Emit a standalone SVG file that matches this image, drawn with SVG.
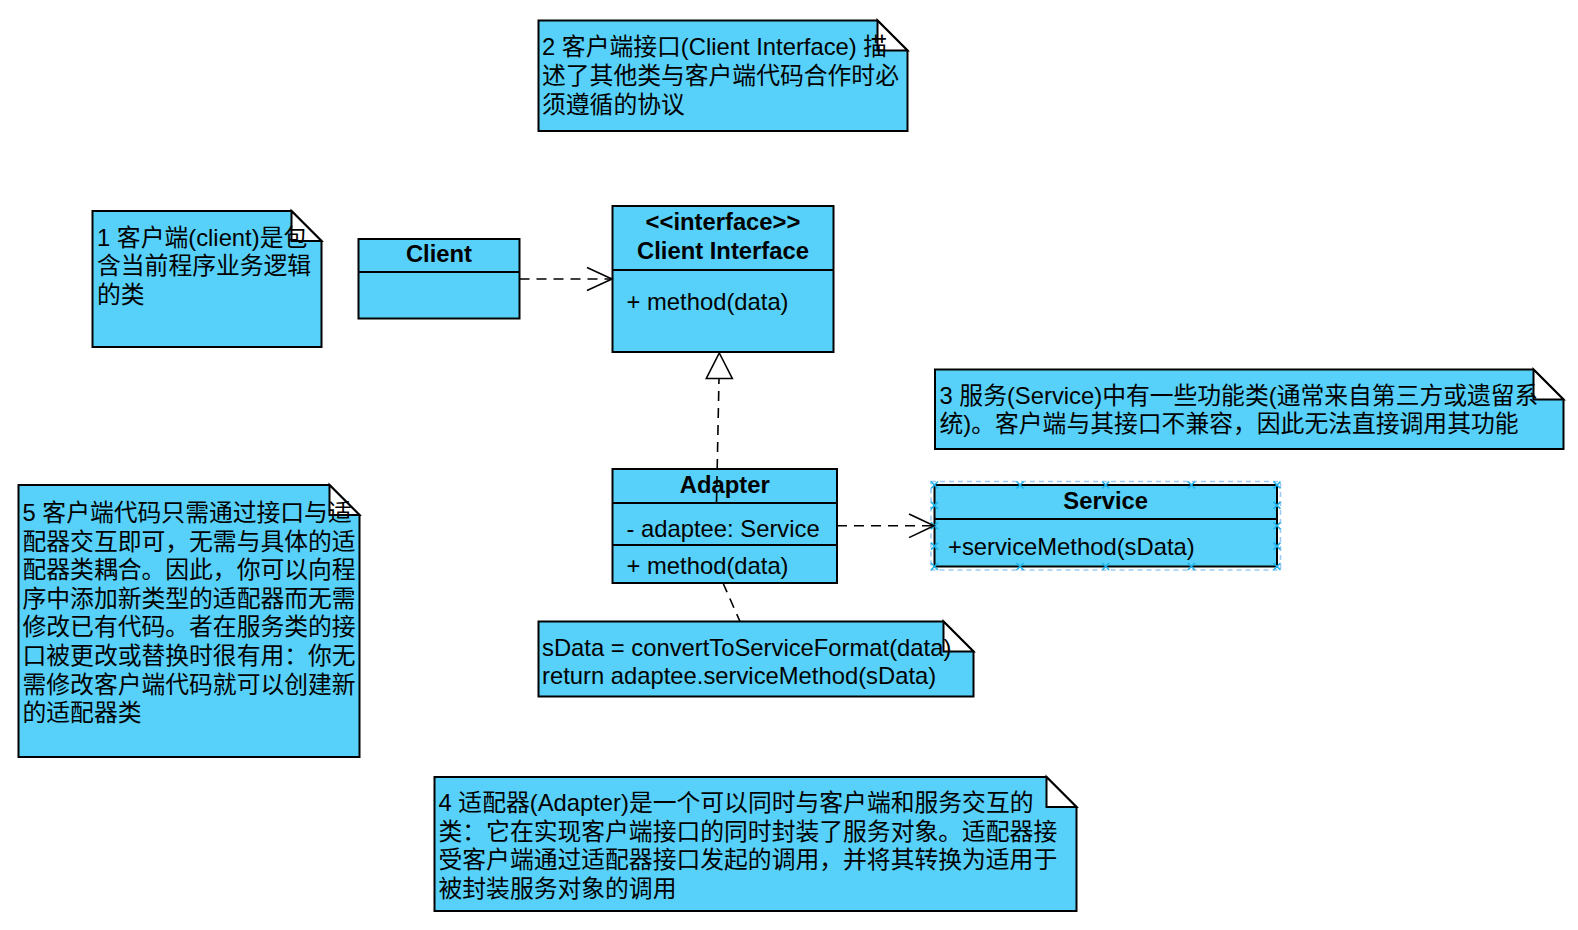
<svg xmlns="http://www.w3.org/2000/svg" width="1578" height="930" viewBox="0 0 1578 930">
  <style>
    .box { fill: #57d1f9; stroke: #000; stroke-width: 2; }
    .flap { fill: #fff; stroke: #000; stroke-width: 2; stroke-linejoin: miter; }
    .sep { stroke: #000; stroke-width: 2; fill: none; }
    text { font-family: "Liberation Sans", "Noto Sans CJK SC", sans-serif; font-size: 23.8px; fill: #000; }
    .b { font-weight: bold; text-anchor: middle; }
    .dash { fill: none; stroke: #000; stroke-width: 1.6; stroke-dasharray: 10 7; }
    .head { fill: none; stroke: #000; stroke-width: 1.6; }
    .tri { fill: #fff; stroke: #000; stroke-width: 1.6; }
    .sel { fill: none; stroke: #9ccaf3; stroke-width: 1.6; stroke-dasharray: 5 4; }
    .pt { stroke: #1eb4ec; stroke-width: 1.6; fill: none; }
  </style>
  <defs>
    <path id="xm" d="M-3.5,-3.5 L3.5,3.5 M-3.5,3.5 L3.5,-3.5"/>
  </defs>

  <g id="note2">
    <path class="box" d="M538.5,20.5 H877.5 L907.5,50.5 V131 H538.5 Z"/>
    <path class="flap" d="M877.5,20.5 V50.5 H907.5 Z"/>
    <text x="542" y="55">2 客户端接口(Client Interface) 描</text>
    <text x="542" y="84">述了其他类与客户端代码合作时必</text>
    <text x="542" y="113">须遵循的协议</text>
  </g>

  <g id="note1">
    <path class="box" d="M92.5,211 H291.5 L321.5,241 V347 H92.5 Z"/>
    <path class="flap" d="M291.5,211 V241 H321.5 Z"/>
    <text x="97" y="245.5">1 客户端(client)是包</text>
    <text x="97" y="274">含当前程序业务逻辑</text>
    <text x="97" y="302.5">的类</text>
  </g>

  <g id="client">
    <rect class="box" x="358.5" y="239" width="161" height="79.5"/>
    <line class="sep" x1="358.5" y1="272" x2="519.5" y2="272"/>
    <text class="b" x="439" y="262">Client</text>
  </g>

  <g id="clientInterface">
    <rect class="box" x="612.5" y="206" width="221" height="146"/>
    <line class="sep" x1="612.5" y1="270" x2="833.5" y2="270"/>
    <text class="b" x="723" y="229.5">&lt;&lt;interface&gt;&gt;</text>
    <text class="b" x="723" y="258.5">Client Interface</text>
    <text x="626.5" y="309.5">+ method(data)</text>
  </g>

  <g id="note3">
    <path class="box" d="M935,369.5 H1533.5 L1563.5,399.5 V449 H935 Z"/>
    <path class="flap" d="M1533.5,369.5 V399.5 H1563.5 Z"/>
    <text x="939.5" y="403.5">3 服务(Service)中有一些功能类(通常来自第三方或遗留系</text>
    <text x="939.5" y="432">统)。客户端与其接口不兼容，因此无法直接调用其功能</text>
  </g>

  <g id="adapter">
    <rect class="box" x="612.5" y="469" width="224.5" height="114"/>
    <line class="sep" x1="612.5" y1="503" x2="837" y2="503"/>
    <line class="sep" x1="612.5" y1="545" x2="837" y2="545"/>
    <text class="b" x="724.8" y="492.5">Adapter</text>
    <text x="626.5" y="537">- adaptee: Service</text>
    <text x="626.5" y="573.5">+ method(data)</text>
  </g>

  <g id="service">
    <rect class="box" x="934.5" y="485" width="342.5" height="81.5"/>
    <line class="sep" x1="934.5" y1="519" x2="1277" y2="519"/>
    <text class="b" x="1105.7" y="508.5">Service</text>
    <text x="948" y="555">+serviceMethod(sData)</text>
    <rect class="sel" x="931" y="481.5" width="349.5" height="88.5"/>
    <g class="pt">
      <use href="#xm" x="934.5" y="485"/>
      <use href="#xm" x="1020.1" y="485"/>
      <use href="#xm" x="1105.7" y="485"/>
      <use href="#xm" x="1191.4" y="485"/>
      <use href="#xm" x="1277" y="485"/>
      <use href="#xm" x="934.5" y="566.5"/>
      <use href="#xm" x="1020.1" y="566.5"/>
      <use href="#xm" x="1105.7" y="566.5"/>
      <use href="#xm" x="1191.4" y="566.5"/>
      <use href="#xm" x="1277" y="566.5"/>
      <use href="#xm" x="934.5" y="505.4"/>
      <use href="#xm" x="934.5" y="525.8"/>
      <use href="#xm" x="934.5" y="546.1"/>
      <use href="#xm" x="1277" y="505.4"/>
      <use href="#xm" x="1277" y="525.8"/>
      <use href="#xm" x="1277" y="546.1"/>
    </g>
  </g>

  <g id="note5">
    <path class="box" d="M18.5,485 H329.5 L359.5,515 V757 H18.5 Z"/>
    <path class="flap" d="M329.5,485 V515 H359.5 Z"/>
    <text x="22.5" y="521">5 客户端代码只需通过接口与适</text>
    <text x="22.5" y="549.6">配器交互即可，无需与具体的适</text>
    <text x="22.5" y="578.2">配器类耦合。因此，你可以向程</text>
    <text x="22.5" y="606.8">序中添加新类型的适配器而无需</text>
    <text x="22.5" y="635.4">修改已有代码。者在服务类的接</text>
    <text x="22.5" y="664">口被更改或替换时很有用：你无</text>
    <text x="22.5" y="692.6">需修改客户端代码就可以创建新</text>
    <text x="22.5" y="721.2">的适配器类</text>
  </g>

  <g id="codeNote">
    <path class="box" d="M538.5,621.5 H943.5 L973.5,651.5 V696.5 H538.5 Z"/>
    <path class="flap" d="M943.5,621.5 V651.5 H973.5 Z"/>
    <text x="542" y="655.5">sData = convertToServiceFormat(data)</text>
    <text x="542" y="684">return adaptee.serviceMethod(sData)</text>
  </g>

  <g id="note4">
    <path class="box" d="M434.5,777 H1046.5 L1076.5,807 V911 H434.5 Z"/>
    <path class="flap" d="M1046.5,777 V807 H1076.5 Z"/>
    <text x="438.5" y="811">4 适配器(Adapter)是一个可以同时与客户端和服务交互的</text>
    <text x="438.5" y="839.5">类：它在实现客户端接口的同时封装了服务对象。适配器接</text>
    <text x="438.5" y="868">受客户端通过适配器接口发起的调用，并将其转换为适用于</text>
    <text x="438.5" y="896.5">被封装服务对象的调用</text>
  </g>

  <g id="connectors">
    <line class="dash" x1="519.5" y1="279" x2="611" y2="279"/>
    <path class="head" d="M587,267.5 L612,279 L587,290.5"/>
    <line class="dash" x1="716.5" y1="503" x2="719" y2="378.5"/>
    <path class="tri" d="M719.3,353 L732.3,378.5 L706.3,378.5 Z"/>
    <line class="dash" x1="837" y1="525.8" x2="933" y2="525.8"/>
    <path class="head" d="M909,514 L934,525.8 L909,537.6"/>
    <line class="dash" x1="723" y1="583" x2="740" y2="621.5"/>
  </g>
</svg>
